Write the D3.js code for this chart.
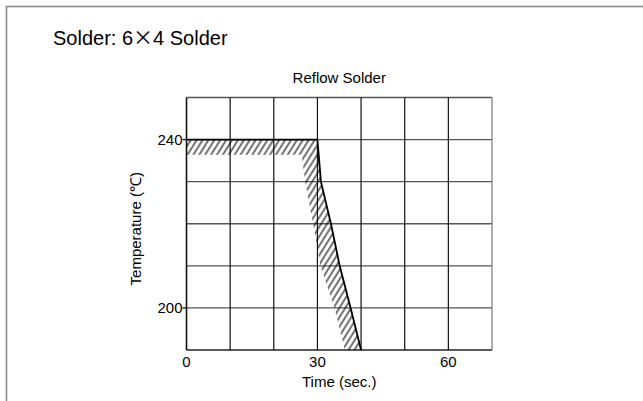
<!DOCTYPE html>
<html>
<head>
<meta charset="utf-8">
<script src="https://cdn.jsdelivr.net/npm/d3@7"></script>
<style>
  body { margin: 0; background: #fff; }
  svg { display: block; font-family: "Liberation Sans", Arial, sans-serif; }
</style>
</head>
<body>
<svg id="chart" width="643" height="401"></svg>
<script>
// grid and tick values
const timeGrid = [0, 10, 20, 30, 40, 50, 60, 70];
const tempGrid = [190, 200, 210, 220, 230, 240, 250];
const timeTickLabels = [0, 30, 60];
const tempTickLabels = [200, 240];

// upper limit of the reflow profile
const upperTime = [0, 30, 30.8, 33.1, 35.1, 37.6, 40];
const upperTemp = [240, 240, 230, 220, 210, 200, 190];
// lower edge of the hatched band
const lowerTime = [0, 26.4, 27.2, 29.0, 30.7, 33.9, 36.3];
const lowerTemp = [236.4, 236.4, 230, 220, 210, 200, 190];

const svg = d3.select('#chart');

const x = d3.scaleLinear().domain([0, 70]).range([186.5, 492]);
const y = d3.scaleLinear().domain([190, 250]).range([350, 97.5]);

// outer frame
svg.append('rect')
  .attr('x', 6.5).attr('y', 6.5)
  .attr('width', 660).attr('height', 420)
  .attr('fill', 'none')
  .attr('stroke', '#8c8c8c')
  .attr('stroke-width', 1.6);

const title = svg.append('text')
  .attr('x', 53).attr('y', 45)
  .attr('font-size', 20);
title.append('tspan').text('Solder: 6');
title.append('tspan').attr('font-family', '"Noto Sans CJK JP", "DejaVu Sans", sans-serif').text('\u00d7');
title.append('tspan').text('4 Solder');

svg.append('text')
  .attr('x', (x(0) + x(70)) / 2).attr('y', 83)
  .attr('text-anchor', 'middle')
  .attr('font-size', 15)
  .text('Reflow Solder');

// hatch pattern
const defs = svg.append('defs');
defs.append('pattern')
  .attr('id', 'hatch')
  .attr('patternUnits', 'userSpaceOnUse')
  .attr('width', 5).attr('height', 5)
  .attr('patternTransform', 'rotate(32)')
  .append('line')
  .attr('x1', 1).attr('y1', 0)
  .attr('x2', 1).attr('y2', 5)
  .attr('stroke', '#000')
  .attr('stroke-width', 1.1);

const g = svg.append('g');

// grid
g.selectAll('.hgrid')
  .data(tempGrid)
  .enter().append('line')
  .attr('class', 'hgrid')
  .attr('x1', x(0)).attr('x2', x(70))
  .attr('y1', d => y(d)).attr('y2', d => y(d))
  .attr('stroke', d => (d === 190 ? '#222' : '#555'))
  .attr('stroke-width', 1.4);

g.selectAll('.vgrid')
  .data(timeGrid)
  .enter().append('line')
  .attr('class', 'vgrid')
  .attr('x1', d => x(d)).attr('x2', d => x(d))
  .attr('y1', y(250)).attr('y2', y(190))
  .attr('stroke', d => (d === 70 ? '#777' : '#111'))
  .attr('stroke-width', d => (d === 0 ? 1.6 : 1.2));

// hatched band
const upperPts = upperTime.map((t, i) => [x(t), y(upperTemp[i])]);
const lowerPts = lowerTime.map((t, i) => [x(t), y(lowerTemp[i])]);
const band = upperPts.concat(lowerPts.slice().reverse());

g.append('path')
  .attr('d', 'M' + band.map(p => p.join(',')).join('L') + 'Z')
  .attr('fill', 'url(#hatch)');

// profile line
g.append('path')
  .datum(upperPts)
  .attr('d', d3.line())
  .attr('fill', 'none')
  .attr('stroke', '#000')
  .attr('stroke-width', 1.8);

// y ticks
g.selectAll('.ytick')
  .data(tempTickLabels)
  .enter().append('line')
  .attr('x1', x(0) - 4).attr('x2', x(0))
  .attr('y1', d => y(d)).attr('y2', d => y(d))
  .attr('stroke', '#000').attr('stroke-width', 1.2);

g.selectAll('.ylab')
  .data(tempTickLabels)
  .enter().append('text')
  .attr('x', x(0) - 4)
  .attr('y', d => y(d) + 5)
  .attr('text-anchor', 'end')
  .attr('font-size', 15)
  .text(d => d);

g.selectAll('.xlab')
  .data(timeTickLabels)
  .enter().append('text')
  .attr('x', d => x(d))
  .attr('y', 367)
  .attr('text-anchor', 'middle')
  .attr('font-size', 15)
  .text(d => d);

svg.append('text')
  .attr('x', (x(0) + x(70)) / 2).attr('y', 387)
  .attr('text-anchor', 'middle')
  .attr('font-size', 15)
  .text('Time (sec.)');

svg.append('text')
  .attr('transform', 'translate(141,' + ((y(190) + y(250)) / 2 + 5) + ') rotate(-90)')
  .attr('text-anchor', 'middle')
  .attr('font-size', 15)
  .text('Temperature (\u2103)');
</script>
</body>
</html>
